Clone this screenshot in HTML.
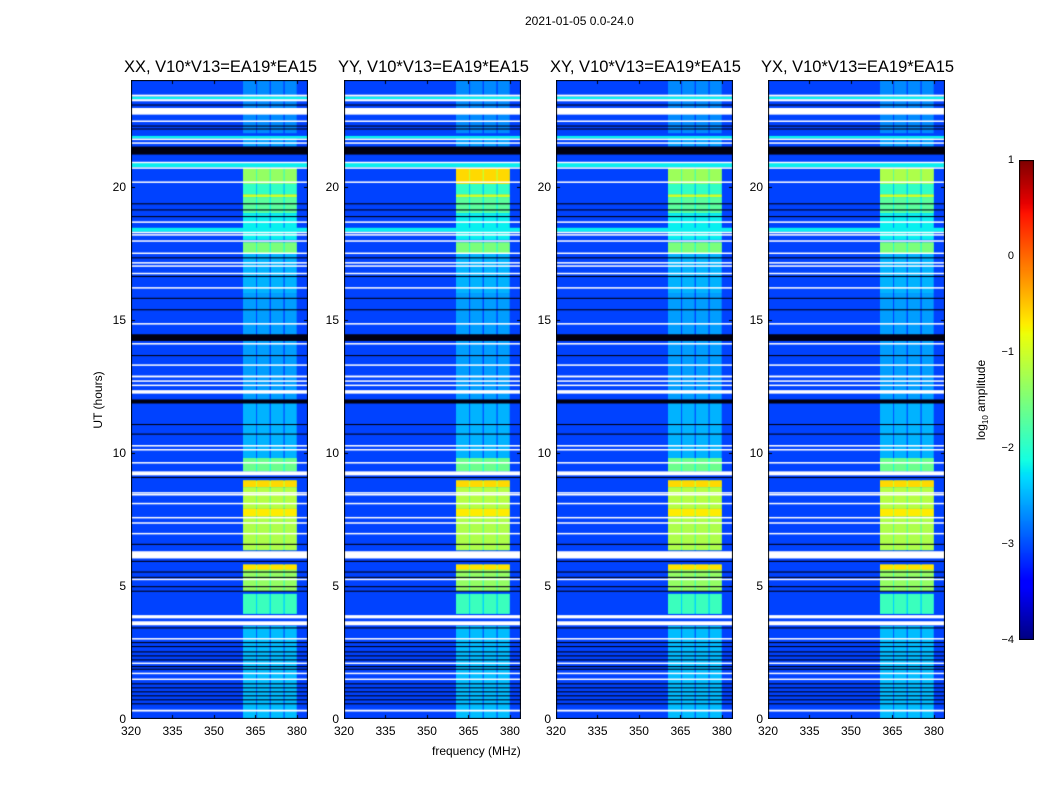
<!DOCTYPE html>
<html><head><meta charset="utf-8"><style>
body{margin:0;background:#fff;width:1050px;height:800px;overflow:hidden;font-family:"Liberation Sans",sans-serif;position:relative}
.t{position:absolute;font-size:12px;color:#000;white-space:nowrap}
.title{position:absolute;font-size:16.5px;white-space:nowrap;transform:translateX(-50%)}
canvas{position:absolute}
</style></head><body>
<div class="t" style="left:525px;top:14px">2021-01-05 0.0-24.0</div>
<div class="t" style="left:432px;top:744px">frequency (MHz)</div>
<div class="t" style="left:98px;top:400px;transform:translate(-50%,-50%) rotate(-90deg)">UT (hours)</div>
<div class="t" style="left:982px;top:400px;transform:translate(-50%,-50%) rotate(-90deg)">log<sub style="font-size:8px">10</sub> amplitude</div>
<div id="root"></div>
<script>
const panelTitles=["XX, V10*V13=EA19*EA15","YY, V10*V13=EA19*EA15","XY, V10*V13=EA19*EA15","YX, V10*V13=EA19*EA15"];
const panelNames=["xx","yy","xy","yx"];
const xTicks=[320,335,350,365,380];
const yTicks=[0,5,10,15,20];
const cbTicks=[1,0,-1,-2,-3,-4];
const bgLevel=-3.05;
const chanLo=[360.5,365.6,370.6,375.6];
const chanHi=[365.2,370.1,375.1,379.9];
const sigStart=[22.0,21.5,19.7,19.6,19.0,18.0,17.5,16.0,12.0,9.8,9.3,8.7,7.9,7.6,6.34,5.6,4.8,3.95,0];
const sigEnd  =[24.0,21.9,20.1,19.7,19.6,19.0,17.9,17.5,16.0,12.0,9.8,8.96,8.7,7.9,7.6,5.8,5.6,4.7,3.5];
const sigLevel=[-2.7,-2.6,-1.95,-1.0,-1.7,-2.2,-1.5,-2.5,-2.6,-2.5,-1.6,-0.6,-1.15,-0.7,-1.2,-0.65,-1.35,-1.9,-2.45];
const band20Start=20.1, band20End=20.7;
const band20Level=[-1.35,-0.6,-1.3,-1.2];
const cyanStart=[23.28,21.8,20.72,18.3];
const cyanEnd=[23.38,21.9,20.88,18.45];
const gapStart=[23.2,23.38,22.7,22.44,21.76,21.62,20.88,20.68,20.15,18.65,18.25,18.17,17.94,17.48,17.12,17.0,16.72,16.18,14.83,14.08,13.28,12.83,12.68,12.52,12.22,10.25,10.1,9.6,9.15,8.48,8.42,8.08,7.55,7.35,6.95,6.03,5.23,3.78,3.52,3.0,2.08,1.7,1.48,0.28];
const gapEnd  =[23.28,23.45,22.95,22.48,21.8,21.66,20.93,20.72,20.19,18.69,18.3,18.21,17.98,17.52,17.16,17.04,16.76,16.22,14.87,14.12,13.32,12.9,12.72,12.56,12.35,10.29,10.14,9.65,9.3,8.52,8.45,8.12,7.59,7.39,6.99,6.3,5.27,3.9,3.67,3.04,2.12,1.74,1.52,0.35];
const darkStart=[23.04,22.25,22.14,21.2,19.33,19.1,18.85,17.3,16.6,15.78,15.35,14.2,13.63,11.85,11.04,10.68,9.05,6.54,5.9,5.5,5.3,4.95,4.78,3.4,2.85,2.7,2.5,2.35,2.2,1.95,1.85,1.3,1.15,1.0,0.85,0.7,0.55];
const darkEnd=darkStart.map((s,i)=>[21.2,14.2,11.85].includes(s)?({21.2:21.5,14.2:14.45,11.85:12.0})[s]:s+0.04);

const PX=[131,344,556,768], PY=80, PW=177, PH=639, F0=320, F1=384, H1=24;
function interp(t,pts){for(let i=1;i<pts.length;i++){if(t<=pts[i][0]){const a=pts[i-1],b=pts[i];return a[1]+(b[1]-a[1])*(t-a[0])/(b[0]-a[0]);}}return pts[pts.length-1][1];}
function jet(v){let t=(v+4)/5;t=Math.max(0,Math.min(1,t));
const r=interp(t,[[0,0],[0.35,0],[0.66,1],[0.89,1],[1,0.5]]);
const g=interp(t,[[0,0],[0.125,0],[0.375,1],[0.64,1],[0.91,0],[1,0]]);
const b=interp(t,[[0,0.5],[0.11,1],[0.34,1],[0.65,0],[1,0]]);
return `rgb(${Math.round(r*255)},${Math.round(g*255)},${Math.round(b*255)})`;}
const xs=f=>(f-F0)/(F1-F0)*PW;
const ys=h=>PH-(h/H1)*PH;
const root=document.getElementById('root');
function mk(tag,cls,style,name,text){const e=document.createElement(tag);if(cls)e.className=cls;e.style.cssText=style;


if(text!==undefined)e.textContent=text;root.appendChild(e);return e;}
for(let p=0;p<4;p++){
  const cv=document.createElement('canvas');cv.width=PW;cv.height=PH;cv.style.left=PX[p]+'px';cv.style.top=PY+'px';
  
  
  root.appendChild(cv);
  const g=cv.getContext('2d');
  g.fillStyle=jet(bgLevel);g.fillRect(0,0,PW,PH);
  const band=(h0,h1,lv)=>{
    g.fillStyle=jet(Math.max(bgLevel,lv-0.45));g.fillRect(xs(chanLo[0]),ys(h1),xs(chanHi[3])-xs(chanLo[0]),ys(h0)-ys(h1));
    for(let c=0;c<chanLo.length;c++){g.fillStyle=jet(lv);g.fillRect(xs(chanLo[c]),ys(h1),xs(chanHi[c])-xs(chanLo[c]),ys(h0)-ys(h1));}
  };
  for(let i=0;i<sigStart.length;i++)band(sigStart[i],sigEnd[i],sigLevel[i]);
  band(band20Start,band20End,band20Level[p]);
  for(let i=0;i<cyanStart.length;i++){g.fillStyle=jet(-2.2);g.fillRect(0,ys(cyanEnd[i]),PW,ys(cyanStart[i])-ys(cyanEnd[i]));}
  for(let i=0;i<darkStart.length;i++){g.fillStyle='#000010';g.fillRect(0,ys(darkEnd[i]),PW,Math.max(1,ys(darkStart[i])-ys(darkEnd[i])));}
  for(let i=0;i<gapStart.length;i++){g.fillStyle='#fff';g.fillRect(0,ys(gapEnd[i]),PW,Math.max(1.5,ys(gapStart[i])-ys(gapEnd[i])));}
  g.strokeStyle='#000';g.lineWidth=1;g.strokeRect(0.5,0.5,PW-1,PH-1);
  g.beginPath();
  xTicks.forEach(f=>{const x=Math.round(xs(f))+0.5;g.moveTo(x,PH);g.lineTo(x,PH-4);g.moveTo(x,0);g.lineTo(x,4);});
  yTicks.forEach(h=>{const y=Math.round(ys(h))+0.5;g.moveTo(0,y);g.lineTo(4,y);g.moveTo(PW,y);g.lineTo(PW-4,y);});
  g.stroke();
  mk('div','title',`left:${PX[p]+PW/2+1}px;top:58px`,'panel-title-'+panelNames[p],panelTitles[p]);
  xTicks.forEach(f=>mk('div','t',`left:${PX[p]+xs(f)}px;top:724px;transform:translateX(-50%)`,'x-tick-label',String(f)));
  yTicks.forEach(h=>mk('div','t',`left:${PX[p]-5}px;top:${PY+ys(h)-7}px;transform:translateX(-100%)`,'y-tick-label',String(h)));
}
const CX=1019,CY=160,CW=15,CH=480;
const cb=document.createElement('canvas');cb.width=CW;cb.height=CH;cb.style.left=CX+'px';cb.style.top=CY+'px';


root.appendChild(cb);
const cg=cb.getContext('2d');
for(let y=0;y<CH;y++){cg.fillStyle=jet(1-5*y/CH);cg.fillRect(0,y,CW,1);}
cg.strokeStyle='#000';cg.strokeRect(0.5,0.5,CW-1,CH-1);
cbTicks.forEach(v=>{const y=CY+(1-v)/5*CH;mk('div','t',`left:${CX-5}px;top:${y-6}px;transform:translateX(-100%);font-size:11px`,'colorbar-tick-label',v<0?'\u2212'+(-v):String(v));});
</script>
</body></html>
